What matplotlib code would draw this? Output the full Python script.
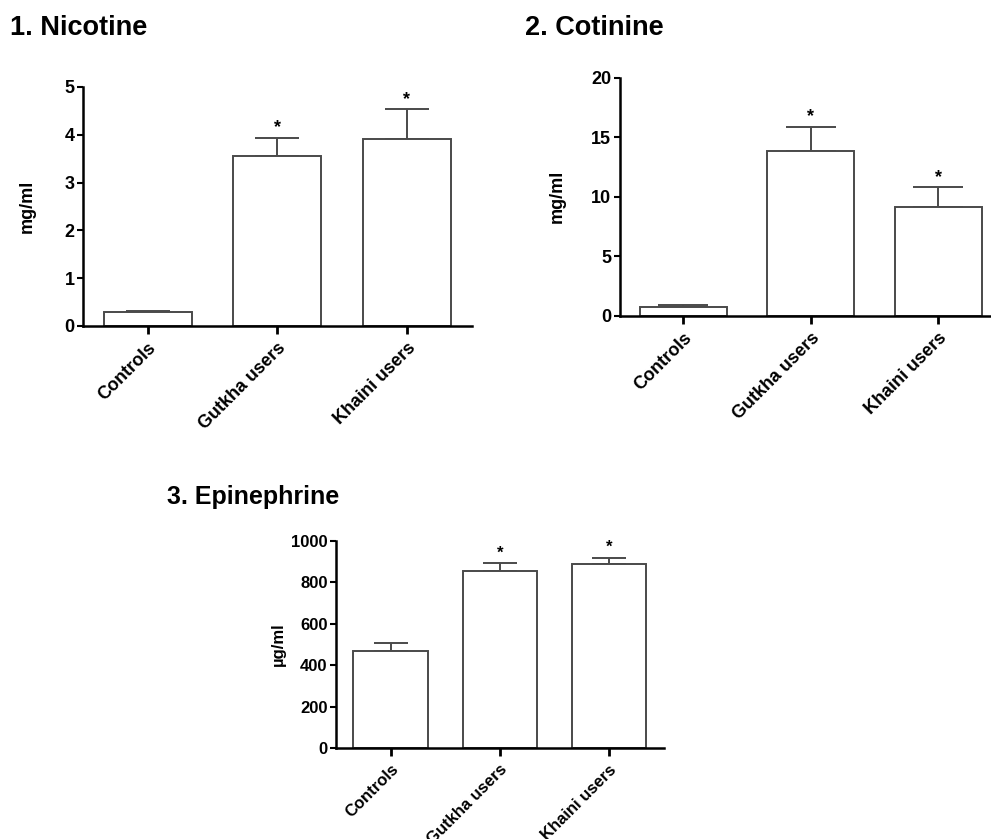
import numpy as np
import matplotlib
matplotlib.use('Agg')
import matplotlib.pyplot as plt

plt.rcParams['font.family'] = ['Liberation Sans', 'DejaVu Sans']
plt.rcParams['font.weight'] = 'bold'

# data (mean, mean+error)
groups = ['Controls', 'Gutkha users', 'Khaini users']
sig = [False, True, True]

nic_mean = [0.30, 3.56, 3.92]
nic_err = [0.02, 0.38, 0.61]

cot_mean = [0.73, 13.84, 9.12]
cot_err = [0.17, 2.02, 1.68]

epi_mean = [470, 857, 889]
epi_err = [37, 37, 30]

titles = ['1. Nicotine', '2. Cotinine', '3. Epinephrine']
ylabels = ['mg/ml', 'mg/ml', 'µg/ml']
ylims = [5, 20, 1000]
yticks = [np.arange(0, 6, 1), np.arange(0, 21, 5), np.arange(0, 1001, 200)]

W, H = 991, 839
fig = plt.figure(figsize=(W / 100, H / 100), dpi=100)

# axes boxes in pixels: left, right, bottom, top
boxes = [(83, 471.5, 326, 87), (619.5, 1002, 316, 77.7), (336, 663.5, 748, 541)]
caps = [15.5, 18, 12]
fs = [13, 13, 12]
lab_x = [-0.121, -0.140, -0.153]
edge = '#4a4a4a'

def panel(k, mean, err):
    l, r, b, t = boxes[k]
    ax = fig.add_axes([l / W, 1 - b / H, (r - l) / W, (b - t) / H])
    x = np.arange(len(groups))
    ax.bar(x, mean, width=0.68, color='white', edgecolor=edge, linewidth=1.4, zorder=2)
    ax.errorbar(x, mean, yerr=[np.zeros(len(err)), err], fmt='none', ecolor=edge,
                elinewidth=1.4, capsize=caps[k], capthick=1.4, zorder=1)
    for i in range(len(groups)):
        if sig[i]:
            ax.annotate('*', (x[i], mean[i] + err[i]), xytext=(0, 4), textcoords='offset points',
                        ha='center', va='baseline', fontsize=fs[k], fontweight='bold')
    ax.set_xlim(-0.5, 2.5)
    ax.set_ylim(0, ylims[k])
    ax.set_yticks(yticks[k])
    ax.set_xticks(x)
    ax.set_xticklabels(groups, rotation=45, ha='right', rotation_mode='anchor', fontsize=fs[k])
    ax.tick_params(axis='y', labelsize=fs[k], length=4, width=1.5, pad=2)
    ax.tick_params(axis='x', length=6, width=2, pad=4)
    for s in ['top', 'right']:
        ax.spines[s].set_visible(False)
    for s in ['left', 'bottom']:
        ax.spines[s].set_linewidth(1.8)
    ax.set_ylabel(ylabels[k], fontsize=fs[k], fontweight='bold')
    ax.yaxis.set_label_coords(lab_x[k], 0.5)
    ax.patch.set_alpha(0)
    return ax

panel(0, nic_mean, nic_err)
panel(1, cot_mean, cot_err)
panel(2, epi_mean, epi_err)

fig.text(10 / W, 1 - 28 / H, titles[0], fontsize=19.5, fontweight='bold', va='center')
fig.text(525 / W, 1 - 28 / H, titles[1], fontsize=19.5, fontweight='bold', va='center')
fig.text(167 / W, 1 - 497 / H, titles[2], fontsize=18, fontweight='bold', va='center')

fig.savefig('out.png', dpi=100)
